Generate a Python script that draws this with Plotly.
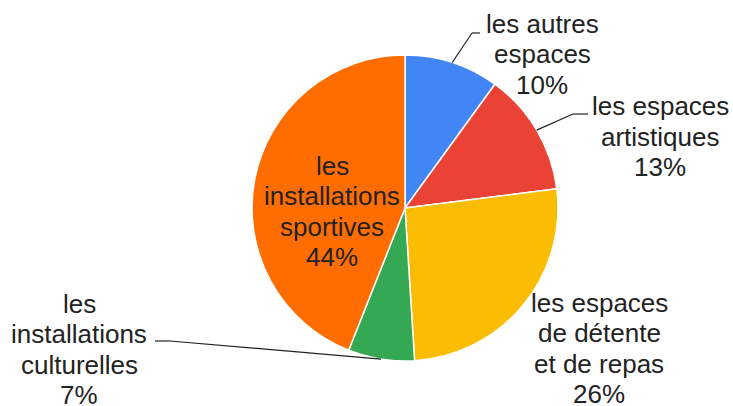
import math
import plotly.graph_objects as go

W, H = 733, 406

# Slice data (clockwise from 12 o'clock)
categories = [
    "les autres espaces",
    "les espaces artistiques",
    "les espaces de détente et de repas",
    "les installations culturelles",
    "les installations sportives",
]
values = [10, 13, 26, 7, 44]
label_lines = [
    ["les autres", "espaces"],
    ["les espaces", "artistiques"],
    ["les espaces", "de détente", "et de repas"],
    ["les", "installations", "culturelles"],
    ["les", "installations", "sportives"],
]
colors = ["#4285F4", "#EA4335", "#FBBC04", "#34A853", "#FF6D01"]

# Pie geometry in pixels
cx, cy, r = 405, 208, 153

# Label blocks: center x and first baseline y (pixels); leader-line elbows/ends
label_pos = [(542, 33), (660, 115.5), (599, 312), (79, 313), (332, 175)]
leaders = [
    ((472, 33), (480, 33)),
    ((573, 114), (588, 114)),
    None,
    ((170, 341), (155, 341)),
    None,
]

FONT = "Liberation Sans, Arial, sans-serif"
FONT_SIZE = 26
LINE_STEP = 30.5
TEXT_COLOR = "#222222"


def px(x):
    return x / W


def py(y):
    return 1 - y / H


fig = go.Figure(
    go.Pie(
        labels=categories,
        values=values,
        sort=False,
        direction="clockwise",
        rotation=0,
        marker=dict(colors=colors, line=dict(color="white", width=1.5)),
        textinfo="none",
        hoverinfo="label+percent",
        domain=dict(x=[px(cx - r), px(cx + r)], y=[py(cy + r), py(cy - r)]),
        showlegend=False,
    )
)

total = sum(values)
cum = 0
annotations = []
shapes = []
for i, v in enumerate(values):
    pct = round(100 * v / total)
    lines = label_lines[i] + [f"{pct}%"]
    lx, base = label_pos[i]
    for k, line in enumerate(lines):
        # box center sits ~0.35em above the baseline
        yc = base + k * LINE_STEP - 0.3465 * FONT_SIZE
        annotations.append(
            dict(
                x=px(lx), y=py(yc), xref="paper", yref="paper",
                text=line, showarrow=False,
                xanchor="center", yanchor="middle", align="center",
                font=dict(family=FONT, size=FONT_SIZE, color=TEXT_COLOR),
            )
        )
    theta = 2 * math.pi * (cum + v / 2) / total
    ax = cx + r * math.sin(theta)
    ay = cy - r * math.cos(theta)
    if leaders[i] is not None:
        (ex, ey), (tx, ty) = leaders[i]
        for (x0, y0), (x1, y1) in [((ax, ay), (ex, ey)), ((ex, ey), (tx, ty))]:
            shapes.append(
                dict(
                    type="line", xref="paper", yref="paper",
                    x0=px(x0), y0=py(y0), x1=px(x1), y1=py(y1),
                    line=dict(color=TEXT_COLOR, width=1.2),
                )
            )
    cum += v

fig.update_layout(
    width=W,
    height=H,
    margin=dict(l=0, r=0, t=0, b=0),
    paper_bgcolor="white",
    plot_bgcolor="white",
    annotations=annotations,
    shapes=shapes,
)

fig.write_html("out.html")
